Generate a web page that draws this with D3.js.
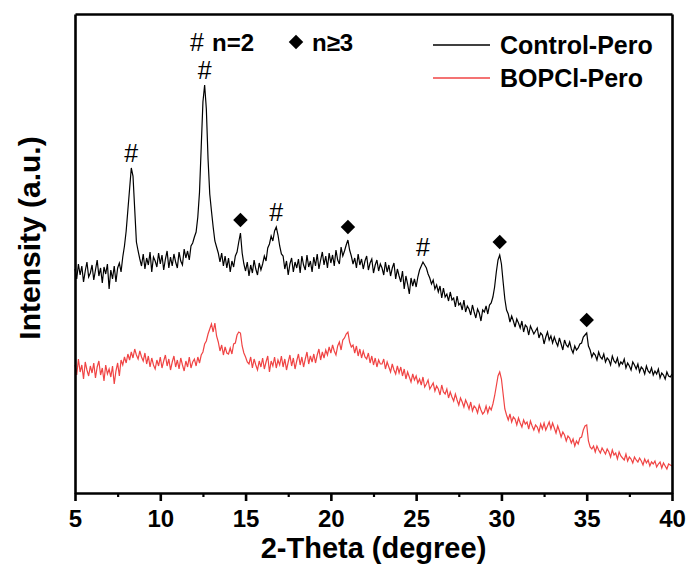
<!DOCTYPE html>
<html>
<head>
<meta charset="utf-8">
<script src="https://cdn.jsdelivr.net/npm/d3@7"></script>
<style>
  body { margin: 0; background: #fff; }
  text { font-family: "Liberation Sans", Arial, sans-serif; }
</style>
</head>
<body>
<svg id="svg_xrd" width="689" height="567"></svg>
<script>
// 2-theta grid (degree): 5.0 .. 40.0, step 0.1
var thetaStart = 5, thetaStep = 0.1;

// Control-Pero intensity (a.u.)
var control = [
  224, 214, 229, 218, 227, 211, 222, 231, 216, 220,
  228, 213, 223, 233, 217, 225, 210, 226, 219, 229,
  204, 223, 214, 227, 211, 225, 230, 221, 236, 247,
  262, 283, 304, 325, 317, 284, 251, 242, 234, 227,
  239, 224, 235, 228, 241, 221, 236, 232, 226, 240,
  229, 238, 223, 234, 242, 225, 236, 227, 239, 231,
  225, 241, 232, 228, 244, 235, 242, 233, 247, 250,
  256, 261, 276, 301, 346, 391, 408, 384, 334, 299,
  282, 266, 252, 246, 240, 231, 240, 227, 237, 225,
  235, 221, 232, 226, 237, 241, 251, 260, 240, 229,
  222, 231, 217, 228, 220, 233, 224, 218, 230, 223,
  229, 237, 232, 245, 249, 257, 252, 262, 266, 258,
  247, 239, 237, 224, 232, 218, 229, 235, 221, 231,
  225, 234, 220, 237, 228, 223, 238, 226, 232, 221,
  236, 227, 239, 224, 233, 241, 228, 237, 225, 240,
  230, 238, 227, 243, 233, 229, 246, 237, 242, 248,
  253, 243, 237, 229, 235, 225, 239, 228, 234, 224,
  232, 237, 223, 230, 234, 220, 228, 233, 222, 229,
  225, 218, 231, 221, 228, 217, 225, 230, 214, 224,
  217, 211, 222, 204, 217, 209, 199, 215, 207, 214,
  206, 216, 223, 227, 231, 228, 225, 219, 215, 209,
  213, 204, 208, 201, 207, 195, 205, 196, 199, 192,
  201, 193, 195, 186, 197, 188, 190, 183, 193, 181,
  187, 184, 178, 188, 181, 175, 184, 180, 172, 183,
  181, 187, 179, 188, 190, 196, 206, 221, 233, 238,
  229, 211, 194, 183, 179, 171, 177, 172, 166, 174,
  170, 165, 172, 161, 168, 166, 158, 167, 163, 159,
  162, 165, 155, 160, 158, 149, 156, 161, 153, 157,
  150, 156, 151, 147, 155, 149, 143, 153, 148, 146,
  151, 144, 140, 147, 143, 145, 149, 150, 156, 158,
  160, 147, 143, 136, 140, 138, 133, 141, 136, 134,
  139, 131, 135, 133, 128, 137, 132, 130, 135, 127,
  131, 129, 134, 125, 130, 127, 123, 131, 128, 124,
  129, 121, 126, 124, 119, 127, 122, 120, 125, 118,
  122, 119, 124, 115, 120, 118, 114, 121, 117, 116,
  119
];

// BOPCl-Pero intensity (a.u.)
var bopcl = [
  128, 118, 134, 121, 128, 114, 131, 123, 117, 127,
  120, 130, 115, 126, 132, 118, 125, 112, 128, 119,
  124, 116, 127, 109, 122, 130, 117, 133, 128, 136,
  130, 139, 133, 141, 135, 144, 138, 134, 142, 136,
  132, 140, 129, 137, 126, 135, 128, 124, 133, 127,
  136, 125, 132, 138, 127, 134, 123, 131, 137, 126,
  133, 124, 135, 128, 122, 132, 126, 136, 125, 131,
  134, 127, 136, 130, 138, 141, 149, 152, 159, 164,
  169, 161, 170, 157, 151, 142, 148, 138, 146, 140,
  139, 145, 139, 149, 150, 158, 161, 160, 147, 140,
  136, 131, 129, 136, 125, 134, 128, 123, 132, 126,
  135, 124, 131, 137, 121, 132, 127, 136, 125, 133,
  128, 137, 126, 134, 123, 131, 138, 127, 135, 124,
  132, 139, 128, 136, 126, 134, 141, 129, 137, 131,
  139, 130, 138, 144, 133, 141, 135, 143, 138, 146,
  140, 148, 142, 138, 147, 151, 143, 153, 155, 159,
  161, 151, 146, 148, 140, 147, 137, 144, 135, 142,
  136, 134, 140, 130, 137, 128, 135, 126, 133, 129,
  129, 134, 124, 131, 126, 121, 129, 123, 119, 127,
  120, 126, 117, 124, 114, 121, 116, 111, 119, 113,
  117, 110, 114, 108, 116, 106, 109, 113, 104, 107,
  110, 102, 107, 104,  98, 108, 101,  99, 104,  95,
  101,  96,  92,  99,  93,  88,  95,  91,  86,  93,
   89,  84,  91,  82,  87,  85,  80,  88,  83,  79,
   81,  87,  80,  86,  83,  89,  97, 107, 117, 121,
  114,  99,  84,  78,  73,  79,  71,  76,  74,  68,
   75,  70,  66,  73,  69,  71,  64,  72,  67,  63,
   68,  66,  61,  69,  64,  70,  63,  67,  71,  64,
   70,  65,  60,  67,  62,  56,  61,  58,  52,  57,
   55,  50,  54,  47,  52,  49,  55,  56,  63,  67,
   68,  52,  46,  44,  47,  41,  47,  43,  40,  45,
   42,  39,  44,  41,  36,  43,  38,  40,  34,  41,
   37,  35,  33,  39,  32,  36,  34,  30,  36,  33,
   31,  35,  32,  28,  34,  30,  33,  27,  31,  29,
   32,  26,  29,  31,  25,  30,  27,  24,  29,  28,
   27
];

// peak labels on the Control-Pero pattern
var peakTheta = [8.3, 12.6, 14.7, 16.8, 21.0, 25.4, 29.9, 35.0];
var peakType  = ["#", "#", "d", "#", "d", "#", "d", "d"];

var xTicks = [5, 10, 15, 20, 25, 30, 35, 40];
var xMinorTicks = [7.5, 12.5, 17.5, 22.5, 27.5, 32.5, 37.5];
var seriesNames = ["Control-Pero", "BOPCl-Pero"];
var seriesColors = ["#000000", "#f04444"];

var svg = d3.select("#svg_xrd"),
    margin = {top: 14, right: 17, bottom: 74, left: 75},
    width = +svg.attr("width") - margin.left - margin.right,
    height = +svg.attr("height") - margin.top - margin.bottom,
    g = svg.append("g").attr("transform", "translate(" + margin.left + "," + margin.top + ")");

var x = d3.scaleLinear().domain([5, 40]).range([0, width]);
var y = d3.scaleLinear().domain([0, height]).range([height, 0]);

function toPoints(vals) {
  return vals.map(function(v, i) { return {t: thetaStart + i * thetaStep, v: v}; });
}
var series = [toPoints(control), toPoints(bopcl)];

var line = d3.line()
    .x(function(d) { return x(d.t); })
    .y(function(d) { return y(d.v); });

// red first so black sits on top
g.append("path").datum(series[1])
    .attr("fill", "none").attr("stroke", seriesColors[1]).attr("stroke-width", 1.2)
    .attr("d", line);
g.append("path").datum(series[0])
    .attr("fill", "none").attr("stroke", seriesColors[0]).attr("stroke-width", 1.2)
    .attr("d", line);

// axes / frame
g.append("g")
    .attr("class", "axis axis--x")
    .attr("transform", "translate(0," + height + ")")
    .call(d3.axisBottom(x).tickValues(xTicks).tickSize(8).tickSizeOuter(0).tickFormat(d3.format("d")))
    .call(function(a) {
      a.select(".domain").attr("stroke-width", 2.6);
      a.selectAll(".tick line").attr("stroke-width", 2.6);
      a.selectAll(".tick text")
        .attr("dy", "0.95em")
        .style("font-size", "24px").style("font-weight", "bold").attr("fill", "#000");
    });
g.append("g")
    .attr("transform", "translate(0," + height + ")")
    .call(d3.axisBottom(x).tickValues(xMinorTicks).tickSize(4).tickSizeOuter(0).tickFormat(""))
    .call(function(a) {
      a.select(".domain").remove();
      a.selectAll(".tick line").attr("stroke-width", 2.2);
    });
g.append("g")
    .call(d3.axisLeft(y).tickValues([]).tickSizeOuter(0))
    .select(".domain").attr("stroke-width", 2.6);
g.append("g")
    .attr("transform", "translate(" + width + ",0)")
    .call(d3.axisRight(y).tickValues([]).tickSizeOuter(0))
    .select(".domain").attr("stroke-width", 2.6);
g.append("g")
    .call(d3.axisTop(x).tickValues([]).tickSizeOuter(0))
    .select(".domain").attr("stroke-width", 2.6);

// axis titles
svg.append("text")
    .attr("x", margin.left + width / 2)
    .attr("y", 558)
    .attr("text-anchor", "middle")
    .style("font-size", "29px").style("font-weight", "bold")
    .text("2-Theta (degree)");
svg.append("text")
    .attr("transform", "translate(40," + (margin.top + 224) + ") rotate(-90)")
    .attr("text-anchor", "middle")
    .style("font-size", "30px").style("font-weight", "bold")
    .text("Intensity (a.u.)");

// peak markers
function peakValue(t) {
  var p = series[0].filter(function(d) { return Math.abs(d.t - t) < 0.25; });
  return d3.max(p, function(d) { return d.v; });
}
var diamond = d3.symbol().type(d3.symbolSquare).size(105);
peakTheta.forEach(function(t, i) {
  var py = y(peakValue(t));
  if (peakType[i] === "#") {
    g.append("text")
      .attr("x", x(t)).attr("y", py - 6)
      .attr("text-anchor", "middle")
      .style("font-size", "25px")
      .text("#");
  } else {
    g.append("path")
      .attr("d", diamond)
      .attr("transform", "translate(" + x(t) + "," + (py - 13) + ") rotate(45)")
      .attr("fill", "#000");
  }
});

// marker key
var key = svg.append("g").attr("transform", "translate(190,51)");
key.append("text").attr("x", 0).style("font-size", "25px").text("#");
key.append("text").attr("x", 22).style("font-size", "24px").style("font-weight", "bold").text("n=2");
key.append("path").attr("d", diamond)
    .attr("transform", "translate(106,-9) rotate(45)").attr("fill", "#000");
key.append("text").attr("x", 122).style("font-size", "24px").style("font-weight", "bold").text("n\u22653");

// series legend
var legend = svg.selectAll(".legend")
  .data(seriesNames)
  .enter().append("g")
    .attr("class", "legend")
    .attr("transform", function(d, i) { return "translate(433," + (45 + i * 33) + ")"; })
legend.append("line")
    .attr("x1", 0).attr("x2", 57)
    .attr("stroke", function(d, i) { return seriesColors[i]; })
    .attr("stroke-width", 1.5);
legend.append("text")
    .attr("x", 67).attr("dy", "0.35em")
    .style("font-size", "25px").style("font-weight", "bold")
    .text(function(d) { return d; });
</script>
</body>
</html>
